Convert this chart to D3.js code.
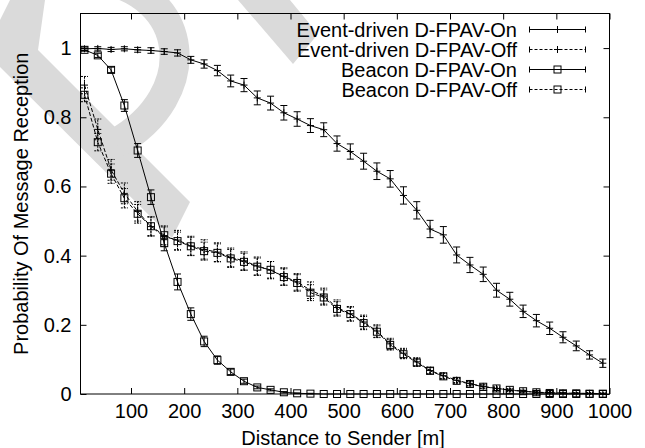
<!DOCTYPE html>
<html>
<head>
<meta charset="utf-8">
<script src="https://cdn.jsdelivr.net/npm/d3@7"></script>
<style>
  body { margin: 0; background: #fff; }
  svg { display: block; }
  text { font-family: "Liberation Sans", Arial, Helvetica, sans-serif; fill: #000; }
</style>
</head>
<body>
<svg id="chart"></svg>
<script>
// distances of the receivers (m)
const distances = [12.5, 37.5, 62.5, 87.5, 112.5, 137.5, 162.5, 187.5, 212.5, 237.5,
  262.5, 287.5, 312.5, 337.5, 362.5, 387.5, 412.5, 437.5, 462.5, 487.5,
  512.5, 537.5, 562.5, 587.5, 612.5, 637.5, 662.5, 687.5, 712.5, 737.5,
  762.5, 787.5, 812.5, 837.5, 862.5, 887.5, 912.5, 937.5, 962.5, 987.5];

const eventOn = [0.998, 0.999, 0.996, 0.998, 0.995, 0.993, 0.990, 0.986, 0.966, 0.954,
  0.935, 0.905, 0.893, 0.856, 0.841, 0.813, 0.795, 0.776, 0.764, 0.724,
  0.701, 0.673, 0.644, 0.622, 0.574, 0.531, 0.477, 0.460, 0.402, 0.373,
  0.346, 0.300, 0.274, 0.239, 0.212, 0.190, 0.164, 0.139, 0.113, 0.089];
const eventOnErr = [0.005, 0.005, 0.006, 0.006, 0.007, 0.008, 0.008, 0.009, 0.010, 0.012,
  0.015, 0.017, 0.019, 0.020, 0.020, 0.021, 0.021, 0.020, 0.020, 0.022,
  0.022, 0.023, 0.024, 0.024, 0.025, 0.025, 0.025, 0.024, 0.023, 0.022,
  0.021, 0.020, 0.020, 0.018, 0.018, 0.018, 0.016, 0.014, 0.012, 0.012];

const eventOff = [0.893, 0.765, 0.648, 0.580, 0.528, 0.484, 0.455, 0.445, 0.428, 0.418,
  0.410, 0.395, 0.385, 0.370, 0.358, 0.340, 0.324, 0.300, 0.283, 0.250,
  0.232, 0.208, 0.182, 0.145, 0.118, 0.093, 0.068, 0.053, 0.040, 0.030,
  0.022, 0.016, 0.011, 0.008, 0.005, 0.004, 0.003, 0.002, 0.002, 0.001];
const eventOffErr = [0.025, 0.030, 0.030, 0.030, 0.028, 0.028, 0.028, 0.028, 0.028, 0.028,
  0.027, 0.027, 0.026, 0.026, 0.025, 0.025, 0.024, 0.024, 0.023, 0.022,
  0.021, 0.020, 0.018, 0.016, 0.014, 0.012, 0.010, 0.008, 0.007, 0.006,
  0.005, 0.004, 0.004, 0.003, 0.003, 0.003, 0.002, 0.002, 0.002, 0.002];

const beaconOn = [0.995, 0.979, 0.937, 0.834, 0.704, 0.569, 0.436, 0.324, 0.231, 0.152,
  0.098, 0.064, 0.037, 0.019, 0.012, 0.005, 0.002, 0.001, 0, 0,
  0, 0, 0, 0, 0, 0, 0, 0, 0, 0,
  0, 0, 0, 0, 0, 0, 0, 0, 0, 0];
const beaconOnErr = [0.004, 0.006, 0.008, 0.017, 0.020, 0.021, 0.022, 0.023, 0.018, 0.015,
  0.012, 0.008, 0.006, 0.004, 0.003, 0.002, 0.001, 0.001, 0, 0,
  0, 0, 0, 0, 0, 0, 0, 0, 0, 0,
  0, 0, 0, 0, 0, 0, 0, 0, 0, 0];

const beaconOff = [0.865, 0.728, 0.637, 0.566, 0.521, 0.485, 0.459, 0.442, 0.427, 0.413,
  0.408, 0.392, 0.382, 0.368, 0.359, 0.338, 0.321, 0.293, 0.279, 0.246,
  0.231, 0.205, 0.180, 0.142, 0.115, 0.091, 0.067, 0.051, 0.038, 0.029,
  0.021, 0.016, 0.012, 0.008, 0.005, 0.003, 0.002, 0.002, 0.001, 0.001];
const beaconOffErr = [0.020, 0.025, 0.028, 0.028, 0.027, 0.027, 0.027, 0.026, 0.026, 0.026,
  0.026, 0.026, 0.025, 0.025, 0.024, 0.024, 0.024, 0.023, 0.022, 0.021,
  0.020, 0.019, 0.017, 0.015, 0.013, 0.011, 0.009, 0.008, 0.007, 0.006,
  0.005, 0.004, 0.003, 0.003, 0.003, 0.002, 0.002, 0.002, 0.002, 0.002];

const seriesNames = ["Event-driven D-FPAV-On", "Event-driven D-FPAV-Off", "Beacon D-FPAV-On", "Beacon D-FPAV-Off"];

const xTicks = [100, 200, 300, 400, 500, 600, 700, 800, 900, 1000];
const yTicks = [0, 0.2, 0.4, 0.6, 0.8, 1];
const yTickLabels = ["0", "0.2", "0.4", "0.6", "0.8", "1"];

/* ---------------------------
   1. Dimensions
--------------------------- */
const width = 645, height = 448;
const plot = { left: 80.5, right: 609.5, top: 13.5, bottom: 394 };

const svg = d3.select("#chart")
  .attr("width", width)
  .attr("height", height);

const x = d3.scaleLinear().domain([5, 1000]).range([plot.left, plot.right]);
const y = d3.scaleLinear().domain([0, 1.1]).range([plot.bottom, plot.top]);

/* ---------------------------
   2. Watermark (background)
--------------------------- */
const wm = svg.append("g").attr("class", "watermark");
wm.append("polygon")
  .attr("points", "10,0 45,0 38,50 190,202 172,238 0,67 0,20")
  .attr("fill", "#dadada");
wm.append("path")
  .attr("d", "M95,-22 C192,-8 202,95 116,143")
  .attr("fill", "none")
  .attr("stroke", "#dadada")
  .attr("stroke-width", 30);
wm.append("polygon")
  .attr("points", "238,0 290,0 318,34 293,64")
  .attr("fill", "#dadada");

/* ---------------------------
   3. Axes + frame
--------------------------- */
const fmtY = d => yTickLabels[yTicks.indexOf(d)];

svg.append("g")
  .attr("transform", `translate(0,${plot.bottom})`)
  .call(d3.axisBottom(x).tickValues(xTicks).tickSize(-6).tickPadding(10).tickFormat(d3.format("d")));
svg.append("g")
  .attr("transform", `translate(0,${plot.top})`)
  .call(d3.axisTop(x).tickValues(xTicks).tickSize(-6).tickFormat(""));
svg.append("g")
  .attr("transform", `translate(${plot.left},0)`)
  .call(d3.axisLeft(y).tickValues(yTicks).tickSize(-6).tickPadding(9).tickFormat(fmtY));
svg.append("g")
  .attr("transform", `translate(${plot.right},0)`)
  .call(d3.axisRight(y).tickValues(yTicks).tickSize(-6).tickFormat(""));

svg.selectAll(".domain").remove();
svg.selectAll(".tick line").attr("stroke", "#000");
svg.selectAll(".tick text").attr("font-size", "20px").attr("fill", "#000")
  .attr("font-family", "'Liberation Sans', Arial, Helvetica, sans-serif");

svg.append("rect")
  .attr("x", plot.left)
  .attr("y", plot.top)
  .attr("width", plot.right - plot.left)
  .attr("height", plot.bottom - plot.top)
  .attr("fill", "none")
  .attr("stroke", "#000")
  .attr("stroke-width", 1);

svg.append("text")
  .attr("x", (plot.left + plot.right) / 2 - 2)
  .attr("y", 445)
  .attr("text-anchor", "middle")
  .attr("font-size", "20px")
  .text("Distance to Sender [m]");

svg.append("text")
  .attr("transform", `translate(28,${(plot.top + plot.bottom) / 2}) rotate(-90)`)
  .attr("text-anchor", "middle")
  .attr("font-size", "20px")
  .text("Probability Of Message Reception");

/* ---------------------------
   4. Series
--------------------------- */
const series = [
  { name: seriesNames[0], values: eventOn, errors: eventOnErr, dashed: false, marker: "plus" },
  { name: seriesNames[1], values: eventOff, errors: eventOffErr, dashed: true, marker: "plus" },
  { name: seriesNames[2], values: beaconOn, errors: beaconOnErr, dashed: false, marker: "square" },
  { name: seriesNames[3], values: beaconOff, errors: beaconOffErr, dashed: true, marker: "square" }
];

const dash = "4,2";
const cap = 3.5;
const ms = 3.5;

function drawMarker(g, type, cx, cy) {
  if (type === "plus") {
    g.append("path")
      .attr("d", `M${cx - ms},${cy}H${cx + ms}M${cx},${cy - ms}V${cy + ms}`)
      .attr("stroke", "#000").attr("fill", "none");
  } else {
    g.append("rect")
      .attr("x", cx - ms).attr("y", cy - ms)
      .attr("width", 2 * ms).attr("height", 2 * ms)
      .attr("stroke", "#000").attr("fill", "none");
  }
}

const line = d3.line()
  .x((d, i) => x(distances[i]))
  .y(d => y(d));

series.forEach(s => {
  const g = svg.append("g").attr("class", "series");

  g.append("path")
    .datum(s.values)
    .attr("d", line)
    .attr("fill", "none")
    .attr("stroke", "#000")
    .attr("stroke-width", 1)
    .attr("stroke-dasharray", s.dashed ? dash : null);

  s.values.forEach((v, i) => {
    const e = s.errors[i];
    const cx = x(distances[i]);
    if (e > 0) {
      const y0 = y(v - e), y1 = y(v + e);
      g.append("path")
        .attr("d", `M${cx},${y0}V${y1}M${cx - cap},${y0}H${cx + cap}M${cx - cap},${y1}H${cx + cap}`)
        .attr("stroke", "#000")
        .attr("fill", "none")
        .attr("stroke-dasharray", s.dashed ? "2,1" : null);
    }
    drawMarker(g, s.marker, cx, y(v));
  });
});

/* ---------------------------
   5. Legend
--------------------------- */
const legend = svg.append("g").attr("class", "legend");
series.forEach((s, i) => {
  const ly = 29.5 + i * 20;
  const g = legend.append("g");
  g.append("text")
    .attr("x", 517)
    .attr("y", ly + 7)
    .attr("text-anchor", "end")
    .attr("font-size", "20px")
    .text(s.name);
  g.append("path")
    .attr("d", `M529.5,${ly}H585.5`)
    .attr("stroke", "#000")
    .attr("stroke-dasharray", s.dashed ? "3,2" : null);
  g.append("path")
    .attr("d", `M529.5,${ly - 3}V${ly + 3}M585.5,${ly - 3}V${ly + 3}`)
    .attr("stroke", "#000");
  drawMarker(g, s.marker, 557.5, ly);
});
</script>
</body>
</html>
